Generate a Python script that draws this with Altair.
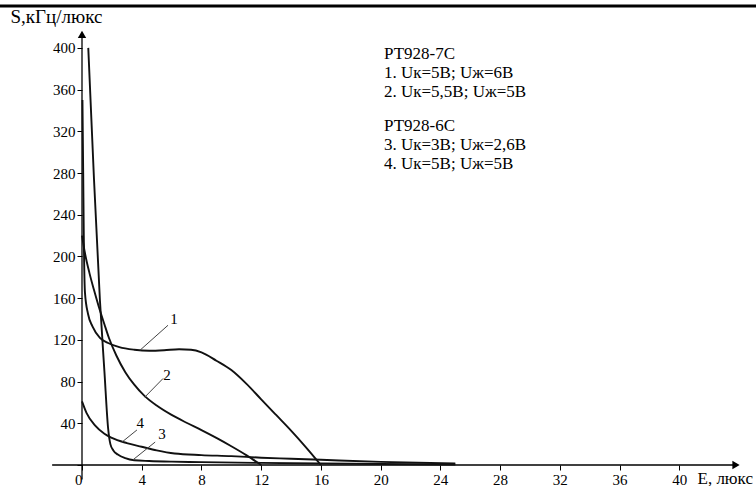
import altair as alt
import pandas as pd

# ---- data ----
c1_E = [0.03, 0.08, 0.12, 0.2, 0.4, 0.7, 1.2, 1.75, 2.5, 3.5, 4.5, 5.5, 6.5, 7.3, 8.0, 9.0, 10.0, 11.0, 12.0, 13.0, 14.0, 15.0, 16.0]
c1_S = [350, 280, 220, 165, 145, 133, 122, 117, 113, 110.5, 109.5, 110, 111, 110.5, 108, 100, 91, 78, 63, 48, 33, 17, 0]

c2_E = [0.0, 0.2, 0.5, 0.8, 1.1, 1.5, 1.8, 2.3, 2.9, 3.5, 4.2, 5.0, 6.0, 7.0, 8.0, 9.0, 10.0, 11.0, 12.0]
c2_S = [220, 203, 184, 168, 153, 135, 122, 105, 89, 77, 66, 57, 48, 40.5, 33.5, 26, 18, 9.5, 0]

c3_E = [0.42, 0.8, 1.2, 1.5, 1.75, 1.9, 2.1, 2.4, 2.9, 3.5, 4.5, 6.0, 8.0, 12.0, 16.0, 20.0, 25.0]
c3_S = [400, 275, 158, 90, 35, 20, 14, 10, 6.5, 4.5, 3.8, 3.2, 2.8, 2.0, 1.5, 1.0, 0.5]

c4_E = [0.0, 0.3, 0.87, 1.5, 2.0, 3.0, 4.0, 5.0, 6.2, 8.0, 10.0, 12.0, 14.0, 16.0, 20.0, 25.0]
c4_S = [61, 50, 38, 30, 26, 21, 17.5, 14, 11, 9.5, 8.5, 7, 6, 5, 3, 1.5]

curve_names = ["1", "2", "3", "4"]

label_text = ["1", "2", "3", "4"]
label_E = [6.16, 5.7, 5.36, 3.9]
label_S = [140, 86, 30, 40]

leader_E1 = [3.88, 4.2, 3.4, 2.68]
leader_S1 = [110, 65, 4.8, 22]
leader_E2 = [5.76, 5.43, 4.9, 3.68]
leader_S2 = [134, 83, 22, 33.6]

legend_block1 = ["РТ928-7С", "1. Uк=5В; Uж=6В", "2. Uк=5,5В; Uж=5В"]
legend_block2 = ["РТ928-6С", "3. Uк=3В; Uж=2,6В", "4. Uк=5В; Uж=5В"]

x_ticks = list(range(0, 44, 2))
y_ticks = list(range(0, 420, 20))

# ---- build tables ----
rows = []
for name, Es, Ss in zip(curve_names, [c1_E, c2_E, c3_E, c4_E], [c1_S, c2_S, c3_S, c4_S]):
    for i, (e, s) in enumerate(zip(Es, Ss)):
        rows.append({"curve": name, "E": e, "S": s, "i": i})
curves = pd.DataFrame(rows)

labels = pd.DataFrame({"t": label_text, "E": label_E, "S": label_S})
leaders = pd.DataFrame({"E": leader_E1, "S": leader_S1, "E2": leader_E2, "S2": leader_S2})

FONT = "Liberation Serif"
xs = alt.Scale(domain=[0, 44.2], nice=False, zero=False)
ys = alt.Scale(domain=[0, 420], nice=False)

x_axis = alt.Axis(
    values=x_ticks, domain=False, grid=False,
    labelExpr="datum.value % 4 == 0 ? datum.label : ''",
    tickSize={"condition": {"test": "datum.value % 4 == 0", "value": 5}, "value": 3},
    labelAlign={"condition": {"test": "datum.value == 0", "value": "right"}, "value": "center"},
    labelFont=FONT, labelFontSize=15, labelColor="black", tickColor="black",
    labelPadding=2,
    title="E, люкс", titleFont=FONT, titleFontSize=17, titleFontWeight="normal",
    titleColor="black", titleAngle=0, titleAlign="left", titleBaseline="middle",
    titleX=615, titleY=13,
)
y_axis = alt.Axis(
    values=y_ticks, domain=False, grid=False,
    labelExpr="datum.value % 40 == 0 && datum.value > 0 ? datum.label : ''",
    tickSize={"condition": {"test": "datum.value % 40 == 0", "value": 5}, "value": 3},
    labelFont=FONT, labelFontSize=15, labelColor="black", tickColor="black",
    labelPadding=2,
    title="S,кГц/люкс", titleFont=FONT, titleFontSize=19, titleFontWeight="normal",
    titleColor="black", titleAngle=0, titleAlign="left", titleBaseline="middle",
    titleX=-72, titleY=-11,
)

lines = alt.Chart(curves).mark_line(
    interpolate="monotone", color="#111", strokeWidth=1.9
).encode(
    x=alt.X("E:Q", scale=xs, axis=x_axis),
    y=alt.Y("S:Q", scale=ys, axis=y_axis),
    detail="curve:N",
    order="i:Q",
)

# axis lines
xline = alt.Chart(pd.DataFrame({"E": [-2.0], "E2": [43.8], "S": [0.0]})).mark_rule(
    color="black", strokeWidth=1.3
).encode(x=alt.X("E:Q", scale=xs), x2="E2:Q", y=alt.Y("S:Q", scale=ys))
yline = alt.Chart(pd.DataFrame({"E": [0.0], "S": [-14.0], "S2": [414.0]})).mark_rule(
    color="black", strokeWidth=1.3
).encode(x=alt.X("E:Q", scale=xs), y=alt.Y("S:Q", scale=ys), y2="S2:Q")

xarrow = alt.Chart(pd.DataFrame({"E": [43.8], "S": [0.0]})).mark_point(
    shape="triangle-right", filled=True, color="black", size=70, opacity=1
).encode(x=alt.X("E:Q", scale=xs), y=alt.Y("S:Q", scale=ys))
yarrow = alt.Chart(pd.DataFrame({"E": [0.0], "S": [413.0]})).mark_point(
    shape="triangle-up", filled=True, color="black", size=70, opacity=1
).encode(x=alt.X("E:Q", scale=xs), y=alt.Y("S:Q", scale=ys))

lead = alt.Chart(leaders).mark_rule(color="#444", strokeWidth=1).encode(
    x=alt.X("E:Q", scale=xs), y=alt.Y("S:Q", scale=ys), x2="E2:Q", y2="S2:Q"
)
lab = alt.Chart(labels).mark_text(
    font=FONT, fontSize=15, color="black", align="center", baseline="middle"
).encode(x=alt.X("E:Q", scale=xs), y=alt.Y("S:Q", scale=ys), text="t:N")

def legend_block(lines_, top):
    return alt.Chart(pd.DataFrame({"t": ["\n".join(lines_)]})).mark_text(
        font=FONT, fontSize=17, color="black", align="left", baseline="top",
        lineBreak="\n", lineHeight=19
    ).encode(x=alt.value(302), y=alt.value(top), text="t:N")

legend1 = legend_block(legend_block1, 19)
legend2 = legend_block(legend_block2, 91)

topbar = alt.Chart(pd.DataFrame({"a": [0]})).mark_rule(color="black", strokeWidth=3).encode(
    x=alt.value(-82), x2=alt.value(674), y=alt.value(-21)
)

chart = alt.layer(
    topbar, xline, yline, xarrow, yarrow, lines, lead, lab, legend1, legend2
).properties(
    width=660, height=438,
    padding={"left": 82, "top": 27, "right": 14, "bottom": 21},
    autosize=alt.AutoSizeParams(type="none"),
    background="white",
).configure_view(stroke=None)

chart.save("out.html", embed_options={"renderer": "svg", "actions": False})
